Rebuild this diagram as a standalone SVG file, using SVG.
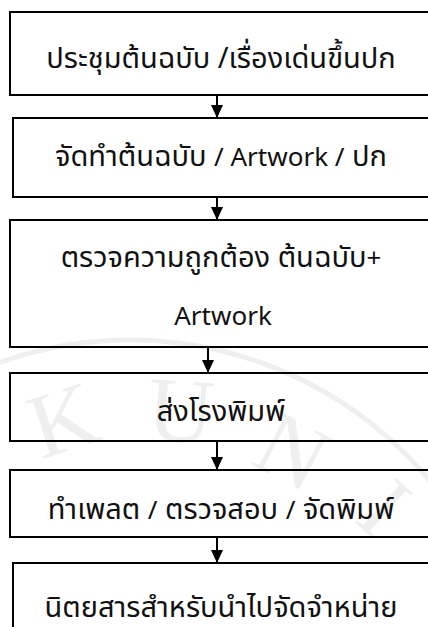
<svg xmlns="http://www.w3.org/2000/svg" width="428" height="627" viewBox="0 0 428 627">
  <style>
    .box { fill: none; stroke: #000; stroke-width: 2; }
    .lbl { font-family: "Noto Sans", "Noto Sans Thai", "Noto Sans CJK SC", sans-serif; font-size: 29px; fill: #111; text-anchor: middle; }
    .lat { font-size: 26px; }
    .conn { stroke: #000; stroke-width: 2; fill: none; }
    .wm { fill: none; stroke: #efefef; stroke-width: 5; }
    .wmt { font-family: "Liberation Serif", serif; font-size: 92px; fill: #efefef; }
  </style>
  <defs>
    <marker id="arr" viewBox="0 0 13 12" refX="13" refY="6" markerWidth="13" markerHeight="12" markerUnits="userSpaceOnUse" orient="auto">
      <path d="M0,0 L13,6 L0,12 Z" fill="#000"/>
    </marker>
  </defs>
  <rect width="428" height="627" fill="#fff"/>
  <g id="watermark">
    <circle class="wm" cx="130" cy="730" r="390"/>
    <text class="wmt" x="28" y="452" transform="rotate(-18 58 415)">K</text>
    <text class="wmt" x="148" y="442" transform="rotate(4 185 405)">U</text>
    <text class="wmt" x="262" y="490" transform="rotate(28 310 450)">N</text>
    <text class="wmt" x="372" y="540" transform="rotate(42 388 505)">I</text>
  </g>
  <g id="connectors">
    <line class="conn" x1="217" y1="96" x2="217" y2="118" marker-end="url(#arr)"/>
    <line class="conn" x1="217" y1="198" x2="217" y2="220" marker-end="url(#arr)"/>
    <line class="conn" x1="208" y1="348" x2="208" y2="373" marker-end="url(#arr)"/>
    <line class="conn" x1="217" y1="442" x2="217" y2="470" marker-end="url(#arr)"/>
    <line class="conn" x1="217" y1="538" x2="217" y2="563" marker-end="url(#arr)"/>
  </g>
  <g id="n1">
    <rect class="box" x="10" y="12" width="430" height="83"/>
    <text class="lbl" x="221" y="68">ประชุมต้นฉบับ /เรื่องเด่นขึ้นปก</text>
  </g>
  <g id="n2">
    <rect class="box" x="13" y="118" width="430" height="79"/>
    <text class="lbl" x="221" y="166">จัดทำต้นฉบับ <tspan class="lat">/ Artwork /</tspan> ปก</text>
  </g>
  <g id="n3">
    <rect class="box" x="10" y="220" width="430" height="127"/>
    <text class="lbl" x="221" y="267">ตรวจความถูกต้อง ต้นฉบับ<tspan class="lat">+</tspan></text>
    <text class="lbl lat" x="223" y="325">Artwork</text>
  </g>
  <g id="n4">
    <rect class="box" x="10" y="373" width="430" height="68"/>
    <text class="lbl" x="221" y="421">ส่งโรงพิมพ์</text>
  </g>
  <g id="n5">
    <rect class="box" x="10" y="470" width="430" height="67"/>
    <text class="lbl" x="221" y="519">ทำเพลต <tspan class="lat">/</tspan> ตรวจสอบ <tspan class="lat">/</tspan> จัดพิมพ์</text>
  </g>
  <g id="n6">
    <rect class="box" x="13" y="563" width="430" height="80"/>
    <text class="lbl" x="221" y="617">นิตยสารสำหรับนำไปจัดจำหน่าย</text>
  </g>
</svg>
